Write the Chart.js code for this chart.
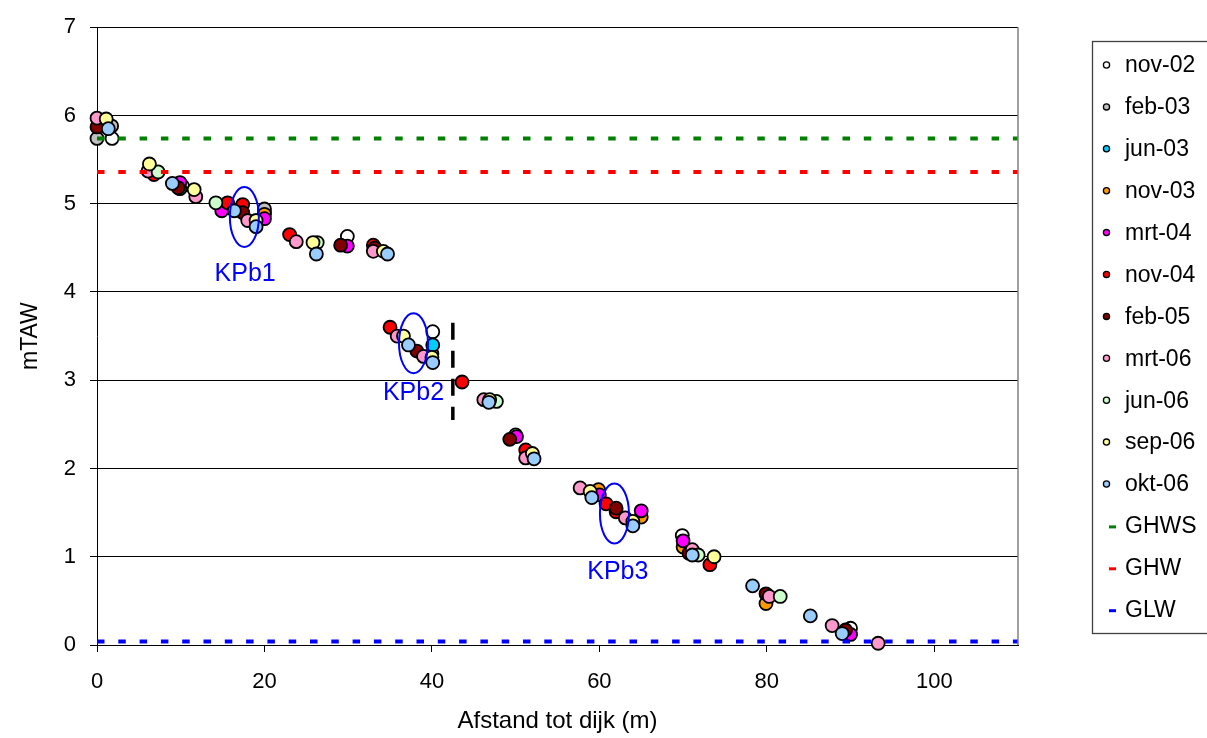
<!DOCTYPE html>
<html>
<head>
<meta charset="utf-8">
<script src="https://cdn.jsdelivr.net/npm/chart.js@4.4.1/dist/chart.umd.min.js"></script>
<style>
html,body{margin:0;padding:0;background:#fff;}
#wrap{width:1207px;height:738px;position:relative;}
canvas{display:block;}
</style>
</head>
<body>
<div id="wrap"><canvas id="c" width="1207" height="738"></canvas></div>
<script>
// ---------- data ----------
const seriesNames = ['nov-02','feb-03','jun-03','nov-03','mrt-04','nov-04','feb-05','mrt-06','jun-06','sep-06','okt-06'];
const seriesColors = ['#FFFFFF','#C0C0C0','#00CCFF','#FF9900','#FF00FF','#FF0000','#800000','#FF99CC','#CCFFCC','#FFFF99','#99CCFF'];

const nov02 = [[1.8,5.74],[10.2,5.20],[20.0,4.90],[29.9,4.63],[40.1,3.55],[50.0,2.38],[69.9,1.24],[90.0,0.19]];
const feb03 = [[0,5.74],[1.75,5.88],[20.0,4.94],[40.0,3.30]];
const jun03 = [[9.9,5.17],[40.1,3.40]];
const nov03 = [[20.0,4.88],[59.9,1.76],[65.0,1.45],[70.0,1.11],[79.9,0.47]];
const mrt04 = [[9.9,5.24],[14.9,4.92],[20.0,4.83],[29.9,4.52],[50.1,2.36],[60.0,1.70],[65.0,1.52],[70.0,1.18],[90.0,0.12]];
const nov04 = [[6.8,5.33],[15.6,5.01],[17.4,4.99],[23.0,4.65],[33.0,4.53],[35.0,3.60],[43.6,2.98],[51.2,2.21],[60.8,1.60],[62.0,1.51],[73.2,0.91]];
const feb05 = [[0,5.87],[9.7,5.18],[17.4,4.90],[29.1,4.53],[33.2,4.50],[38.2,3.33],[49.3,2.33],[62.0,1.55],[70.7,1.04],[79.9,0.58],[89.4,0.17]];
const mrt06 = [[0,5.97],[6.1,5.37],[11.8,5.08],[18.0,4.81],[23.8,4.57],[33.0,4.46],[35.85,3.50],[39.0,3.27],[46.2,2.78],[51.2,2.12],[57.7,1.78],[63.1,1.44],[71.1,1.08],[80.3,0.55],[87.8,0.22],[93.3,0.02]];
const jun06 = [[7.3,5.36],[14.2,5.01],[26.3,4.56],[47.7,2.76],[71.8,1.02],[81.6,0.55]];
const sep06 = [[1.1,5.96],[6.26,5.45],[11.6,5.16],[19.0,4.81],[25.8,4.56],[34.2,4.46],[36.6,3.50],[40.0,3.26],[46.9,2.78],[52.0,2.17],[58.9,1.74],[64.0,1.40],[73.7,1.00]];
const okt06 = [[1.35,5.85],[9.0,5.23],[16.4,4.92],[19.0,4.74],[26.2,4.43],[34.7,4.43],[37.2,3.40],[40.1,3.20],[46.8,2.75],[52.2,2.11],[59.1,1.67],[64.0,1.35],[71.1,1.02],[78.3,0.67],[85.2,0.33],[89.0,0.13]];
const seriesData = [nov02,feb03,jun03,nov03,mrt04,nov04,feb05,mrt06,jun06,sep06,okt06];

const levelNames = ['GHWS','GHW','GLW'];
const levelColors = ['#008000','#FF0000','#0000FF'];
const levelValues = [5.74, 5.36, 0.04];
const levelRangeX = [0, 110];

const boundaryX = [42.5, 42.5];
const boundaryY = [3.65, 2.55];

const kpbLabels = ['KPb1','KPb2','KPb3'];
const kpbEllipseX = [17.6, 37.8, 61.8];
const kpbEllipseY = [4.85, 3.42, 1.49];
const kpbLabelX = [17.7, 37.8, 62.2];
const kpbLabelY = [4.20, 2.85, 0.83];

const xTicks = [0, 20, 40, 60, 80, 100];
const yTicks = [0, 1, 2, 3, 4, 5, 6, 7];

// ---------- build datasets ----------
const FONT = '"Liberation Sans", Arial, Helvetica, sans-serif';
const datasets = [];
const total = seriesNames.length + levelNames.length + 1;
seriesNames.forEach((name, i) => {
  datasets.push({
    type: 'scatter',
    label: name,
    data: seriesData[i].map(p => ({x: p[0], y: p[1]})),
    backgroundColor: seriesColors[i],
    borderColor: '#000000',
    borderWidth: 1.8,
    pointRadius: 6.5,
    pointHoverRadius: 6.5,
    showLine: false,
    clip: false,
    order: total - i
  });
});
levelNames.forEach((name, i) => {
  datasets.push({
    type: 'line',
    label: name,
    data: levelRangeX.map(x => ({x: x, y: levelValues[i]})),
    borderColor: levelColors[i],
    backgroundColor: levelColors[i],
    borderWidth: 4,
    borderDash: [7.5, 13.8],
    borderCapStyle: 'butt',
    pointRadius: 0,
    fill: false,
    order: total - seriesNames.length - i
  });
});
datasets.push({
  type: 'line',
  label: '',
  data: boundaryX.map((x, i) => ({x: x, y: boundaryY[i]})),
  borderColor: '#000000',
  borderWidth: 3.5,
  borderDash: [17, 11],
  borderCapStyle: 'butt',
  pointRadius: 0,
  fill: false,
  order: 0
});

// ---------- overlay plugin ----------
const overlay = {
  id: 'overlay',
  afterDatasetsDraw(chart) {
    const ctx = chart.ctx, xs = chart.scales.x, ys = chart.scales.y;
    ctx.save();
    ctx.strokeStyle = '#0000FF';
    ctx.lineWidth = 2;
    kpbLabels.forEach((t, i) => {
      const cx = xs.getPixelForValue(kpbEllipseX[i]);
      const cy = ys.getPixelForValue(kpbEllipseY[i]);
      ctx.beginPath();
      ctx.ellipse(cx, cy, 14.5, 30, 0, 0, Math.PI * 2);
      ctx.stroke();
    });
    ctx.fillStyle = '#0000FF';
    ctx.font = '25px ' + FONT;
    ctx.textAlign = 'center';
    ctx.textBaseline = 'middle';
    kpbLabels.forEach((t, i) => {
      ctx.fillText(t, xs.getPixelForValue(kpbLabelX[i]), ys.getPixelForValue(kpbLabelY[i]));
    });
    ctx.restore();
  },
  afterDraw(chart) {
    const ctx = chart.ctx, a = chart.chartArea;
    ctx.save();
    // right frame line
    ctx.strokeStyle = '#808080';
    ctx.lineWidth = 1.5;
    ctx.beginPath();
    ctx.moveTo(a.right, a.top);
    ctx.lineTo(a.right, a.bottom);
    ctx.stroke();
    // legend box
    const lx = 1092.5, ly = 41.5, lw = 130, lh = 592;
    ctx.strokeStyle = '#404040';
    ctx.lineWidth = 1.3;
    ctx.strokeRect(lx, ly, lw, lh);
    ctx.font = '23px ' + FONT;
    ctx.textAlign = 'left';
    ctx.textBaseline = 'middle';
    const items = chart.data.datasets.filter(d => d.label);
    items.forEach((d, i) => {
      const y = 65 + i * 41.9;
      if (d.type === 'scatter') {
        ctx.beginPath();
        ctx.arc(1106.5, y, 3.1, 0, Math.PI * 2);
        ctx.fillStyle = d.backgroundColor;
        ctx.fill();
        ctx.lineWidth = 1.3;
        ctx.strokeStyle = '#000';
        ctx.stroke();
      } else {
        ctx.beginPath();
        ctx.moveTo(1109, y + 1);
        ctx.lineTo(1116, y + 1);
        ctx.lineWidth = 3;
        ctx.strokeStyle = d.borderColor;
        ctx.stroke();
      }
      ctx.fillStyle = '#000';
      ctx.fillText(d.label, 1125, y + 1);
    });
    ctx.restore();
  }
};

new Chart(document.getElementById('c'), {
  data: { datasets: datasets },
  options: {
    responsive: false,
    animation: false,
    devicePixelRatio: 1,
    layout: { padding: { top: 23, right: 189, bottom: 0, left: 0 } },
    plugins: {
      legend: { display: false },
      tooltip: { enabled: false }
    },
    scales: {
      x: {
        type: 'linear',
        min: 0, max: 110,
        afterFit(s) { s.height = 93; },
        afterBuildTicks(s) { s.ticks = xTicks.map(v => ({value: v})); },
        ticks: { font: { size: 22, family: FONT }, color: '#000', padding: 17, maxRotation: 0 },
        grid: { display: true, drawOnChartArea: false, drawTicks: true, tickLength: 7, color: '#000', lineWidth: 1 },
        border: { display: true, color: '#000', width: 1 },
        title: { display: true, text: 'Afstand tot dijk (m)', color: '#000', font: { size: 24, family: FONT }, padding: { top: 0, bottom: 2 } }
      },
      y: {
        type: 'linear',
        min: 0, max: 7,
        afterFit(s) { s.width = 97; },
        afterBuildTicks(s) { s.ticks = yTicks.map(v => ({value: v})); },
        ticks: { font: { size: 22, family: FONT }, color: '#000', padding: 14 },
        grid: { display: true, drawOnChartArea: true, drawTicks: true, tickLength: 7, color: '#000', lineWidth: 1 },
        border: { display: true, color: '#000', width: 1 },
        title: { display: true, text: 'mTAW', color: '#000', font: { size: 23, family: FONT }, padding: { top: 17, bottom: 0 } }
      }
    }
  },
  plugins: [overlay]
});
</script>
</body>
</html>
